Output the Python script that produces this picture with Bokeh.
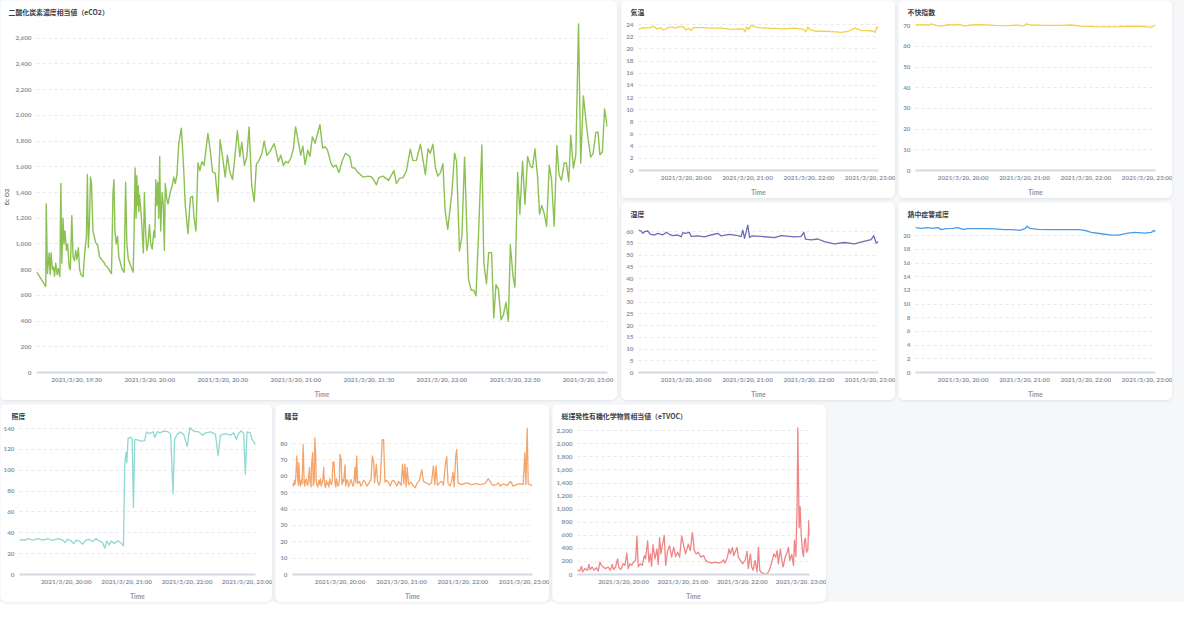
import pandas as pd
from bokeh.plotting import figure
from bokeh.layouts import row, column
from bokeh.models import (Range1d, FixedTicker, DatetimeTickFormatter,
                          NumeralTickFormatter, ColumnDataSource)
from bokeh.embed import file_html
from bokeh.resources import INLINE

# ---------------- data (minutes after 2021/3/20 19:00) ----------------
BASE = "2021-03-20 19:00"

ECO2_T = [
    13.6, 17.3, 17.5, 18.0, 18.7, 19.1, 19.5, 20.0, 20.5, 20.9,
    21.4, 22.0, 22.5, 23.1, 23.5, 23.9, 24.4, 24.8, 25.2, 25.8,
    26.3, 26.9, 27.4, 28.0, 28.5, 29.1, 29.6, 30.1, 30.7, 31.2,
    31.8, 32.6, 33.4, 34.0, 34.4, 34.8, 35.3, 35.7, 36.1, 36.7,
    37.2, 37.8, 38.6, 39.4, 40.2, 41.1, 41.9, 42.7, 43.5, 44.3,
    44.9, 45.3, 45.7, 46.2, 46.8, 47.3, 48.0, 48.7, 49.5, 50.1,
    50.6, 51.2, 52.0, 52.8, 53.2, 53.6, 54.0, 54.4, 54.7, 55.0,
    55.3, 55.5, 55.8, 56.2, 56.6, 57.0, 57.4, 57.8, 58.3, 58.8,
    59.3, 59.9, 60.4, 61.0, 61.7, 62.1, 62.5, 62.9, 63.3, 63.7,
    64.1, 64.5, 65.1, 65.6, 66.0, 66.4, 67.0, 67.5, 68.4, 69.2,
    69.9, 70.5, 71.2, 71.9, 73.0, 73.9, 74.6, 75.7, 76.7, 77.6,
    78.2, 79.0, 79.8, 80.6, 81.4, 82.3, 83.9, 84.9, 85.8, 86.9,
    88.0, 88.9, 89.9, 91.0, 91.9, 92.9, 94.0, 95.1, 96.0, 97.0,
    97.8, 98.9, 99.9, 100.8, 101.9, 102.9, 103.8, 104.9, 106.0, 107.0,
    108.1, 109.4, 111.1, 111.9, 112.8, 113.8, 114.9, 115.8, 116.9, 118.0,
    119.0, 119.9, 121.0, 122.0, 122.9, 123.8, 124.9, 125.8, 126.8, 127.9,
    129.9, 131.0, 132.0, 133.0, 134.4, 135.4, 136.5, 137.7, 139.0, 140.4,
    142.2, 143.1, 144.2, 145.6, 147.6, 149.7, 151.1, 152.1, 153.1, 154.1,
    155.8, 158.1, 160.3, 161.3, 162.6, 164.0, 165.4, 167.0, 168.1, 169.5,
    171.2, 173.2, 174.3, 175.2, 176.3, 177.4, 178.3, 179.4, 180.4, 181.3,
    182.4, 184.1, 185.2, 186.0, 187.2, 188.2, 189.3, 190.9, 192.0, 193.1,
    194.0, 195.0, 196.4, 197.2, 198.3, 199.2, 200.4, 201.3, 202.2, 203.2,
    204.3, 205.2, 206.3, 207.3, 208.1, 209.2, 210.0, 211.1, 212.0, 213.1,
    214.1, 215.2, 216.3, 217.2, 218.2, 219.3, 220.1, 221.0, 222.0, 223.0,
    224.1, 225.0, 226.1, 227.2, 228.1, 229.1, 230.2, 231.1, 232.1, 232.9,
    234.0, 235.0, 236.1, 237.0, 238.1, 239.2, 240.0, 241.1, 242.1, 243.2,
    244.1, 244.9, 245.9, 246.8, 247.9,
]
ECO2_V = [
    780, 670, 1310, 770, 930, 760, 930, 800, 820, 750,
    850, 760, 810, 745, 1470, 850, 1200, 1000, 1100, 950,
    1000, 820, 800, 1220, 900, 870, 950, 880, 970, 800,
    760, 745, 950, 1060, 1540, 970, 1200, 1520, 1460, 1100,
    1060, 1010, 990, 900, 880, 860, 830, 820, 790, 770,
    1390, 1500, 1100, 1000, 1060, 900, 850, 800, 780, 1480,
    1000, 880, 840, 800, 780, 1100, 1590, 1200, 1530, 1300,
    1450, 1250, 1380, 1300, 1200, 1050, 930, 1400, 1100, 950,
    1000, 1150, 1000, 960, 1100, 1050, 1500, 1300, 1480, 1200,
    1680, 1100, 1400, 1300, 950, 1470, 1350, 1310, 1400, 1450,
    1520, 1470, 1540, 1780, 1900, 1600, 1300, 1080, 1360, 1370,
    1200, 1100, 1630, 1570, 1640, 1610, 1860, 1720, 1560, 1550,
    1330, 1810, 1680, 1520, 1690, 1560, 1500, 1700, 1880, 1680,
    1790, 1610, 1680, 1910, 1450, 1330, 1620, 1650, 1700, 1800,
    1690, 1720, 1780, 1720, 1640, 1690, 1610, 1640, 1630, 1670,
    1740, 1910, 1800, 1690, 1760, 1617, 1730, 1680, 1833, 1783,
    1928, 1745, 1757, 1730, 1630, 1598, 1613, 1555, 1643, 1705,
    1680, 1592, 1590, 1555, 1520, 1527, 1522, 1494, 1460, 1516,
    1527, 1494, 1570, 1470, 1510, 1516, 1565, 1737, 1648, 1650,
    1775, 1540, 1740, 1705, 1775, 1585, 1527, 1555, 1623, 1263,
    1113, 1402, 1705, 1643, 945, 1060, 1675, 730, 640, 640,
    597, 1060, 1770, 855, 690, 932, 932, 425, 683, 648,
    410, 445, 546, 398, 994, 747, 665, 1555, 1232, 1643,
    1308, 1680, 1605, 1592, 1740, 1516, 1232, 1300, 1237, 1137,
    1613, 1504, 1137, 1765, 1540, 1494, 1630, 1630, 1484, 1846,
    1590, 1693, 2710, 1630, 2150, 1953, 1820, 1675, 1705, 1868,
    1870, 1693, 1715, 2050, 1910,
]

TEMP_T = [13.5, 18.4, 23.3, 28.2, 31.4, 34.7, 37.9, 42.8, 46.1, 49.3,
          54.2, 57.5, 59.8, 62.4, 65.0, 67.2, 75.4, 85.2, 94.9, 103.1,
          111.2, 116.1, 117.7, 119.4, 121.0, 123.6, 125.9, 130.8, 140.5, 153.5,
          166.6, 174.7, 177.0, 178.9, 181.2, 186.1, 195.9, 205.7, 212.2, 218.7,
          225.2, 231.7, 238.2, 243.1, 244.7, 246.4, 248.0]
TEMP_V = [23.25, 23.5, 23.4, 23.7, 23.25, 23.5, 23.1, 23.5, 23.6, 23.4,
          23.7, 23.6, 23.1, 23.4, 23.0, 23.5, 23.5, 23.4, 23.4, 23.2,
          23.3, 23.25, 22.8, 23.6, 23.2, 23.9, 23.7, 23.5, 23.4, 23.3,
          23.4, 23.2, 22.8, 23.6, 23.15, 22.9, 22.9, 22.8, 22.7, 22.9,
          23.4, 23.0, 23.0, 22.9, 22.7, 23.6, 23.4]

DI_T = [13.5, 19.0, 25.6, 28.8, 33.7, 38.6, 45.1, 51.6, 56.5, 61.4,
        66.3, 77.7, 90.8, 103.8, 113.6, 118.5, 121.7, 126.6, 139.7, 156.0,
        165.7, 175.5, 188.6, 201.6, 211.4, 221.2, 234.2, 244.0, 247.9]
DI_V = [70.3, 70.5, 70.3, 70.8, 70.1, 69.8, 70.5, 70.3, 70.6, 69.8,
        70.3, 70.5, 70.1, 70.0, 70.3, 69.8, 70.8, 70.3, 70.1, 70.1,
        70.3, 69.8, 69.5, 69.4, 69.5, 69.8, 69.7, 69.2, 70.3]

HUM_T = [13.5, 16.1, 17.7, 19.4, 22.6, 25.2, 29.1, 32.4, 37.3, 40.5,
         43.8, 47.0, 51.9, 55.2, 56.8, 59.1, 63.3, 65.0, 71.5, 78.0,
         84.5, 91.0, 94.3, 102.4, 110.6, 113.8, 115.4, 117.1, 118.7, 120.3,
         122.0, 124.2, 133.4, 146.4, 152.9, 165.9, 172.4, 175.0, 176.7, 182.2,
         188.7, 195.2, 205.0, 214.8, 224.6, 232.7, 240.8, 243.4, 245.8, 248.0]
HUM_V = [60.7, 60.3, 59.3, 60.0, 60.3, 58.9, 58.6, 59.3, 58.7, 59.7,
         58.9, 58.3, 58.6, 57.8, 59.6, 59.3, 59.7, 58.0, 58.2, 57.8,
         58.6, 59.3, 58.2, 58.9, 58.3, 57.9, 60.7, 57.2, 60.0, 62.8,
         57.5, 58.2, 58.0, 57.5, 58.3, 57.8, 58.0, 59.7, 56.8, 56.5,
         56.9, 55.8, 54.8, 55.4, 54.8, 55.8, 56.6, 58.3, 55.1, 55.8]

WBGT_T = [13.5, 19.0, 25.6, 30.5, 35.3, 38.6, 43.5, 50.0, 54.9, 59.8,
          64.7, 77.7, 90.8, 100.5, 107.1, 115.2, 120.1, 122.4, 125.0, 133.1,
          146.2, 159.2, 172.3, 178.8, 185.3, 195.1, 204.9, 211.4, 221.2, 227.7,
          237.5, 244.0, 246.6, 247.9]
WBGT_V = [21.2, 21.1, 21.2, 21.1, 21.2, 20.9, 21.05, 21.1, 21.2, 20.95,
          21.05, 21.05, 21.0, 20.9, 20.9, 20.8, 21.0, 21.4, 21.1, 20.95,
          20.9, 20.9, 20.9, 20.8, 20.5, 20.3, 20.1, 20.1, 20.4, 20.5,
          20.4, 20.5, 20.8, 20.6]

LIGHT_T = [13.5, 15.8, 18.5, 21.8, 26.7, 31.7, 36.6, 41.6, 46.5, 51.5,
           56.4, 58.7, 61.4, 64.7, 67.3, 69.6, 72.9, 76.2, 79.5, 82.8,
           86.1, 89.4, 92.7, 96.0, 98.3, 100.3, 102.6, 104.9, 107.6, 110.9,
           114.2, 116.8, 118.1, 119.4, 120.1, 121.4, 123.4, 125.4, 126.7, 128.0,
           130.7, 134.0, 137.9, 139.6, 142.2, 146.5, 147.8, 150.5, 153.1, 157.1,
           161.3, 163.7, 166.0, 167.6, 170.3, 173.6, 176.9, 180.2, 182.8, 186.8,
           191.7, 195.0, 198.3, 203.3, 208.2, 210.8, 213.2, 218.1, 223.1, 226.4,
           229.0, 231.3, 233.6, 236.3, 237.9, 239.6, 242.9, 244.5, 246.2, 247.8]
LIGHT_V = [32.2, 33.8, 32.8, 34.4, 33.1, 34.4, 33.1, 34.1, 32.8, 34.4,
           33.1, 30.6, 33.8, 32.2, 29.7, 32.8, 32.2, 29.1, 33.1, 33.8,
           31.6, 34.4, 32.2, 30.6, 25.3, 32.2, 28.4, 32.2, 29.7, 32.2,
           30.6, 27.5, 107.2, 117.2, 107.2, 130.6, 131.6, 130.6, 64.1, 129.7,
           129.1, 128.1, 128.4, 136.9, 135.3, 136.9, 131.6, 137.2, 135.9, 137.8,
           136.9, 134.7, 77.5, 129.7, 134.7, 136.9, 133.8, 122.8, 140.9, 137.5,
           136.9, 133.8, 135.9, 136.9, 134.7, 114.1, 133.8, 135.3, 133.8, 135.9,
           129.7, 135.3, 137.8, 135.3, 96.2, 136.9, 135.9, 129.7, 127.5, 124.4]

NOISE_T = [13.5, 14.4, 15.4, 16.0, 16.7, 17.7, 18.7, 19.2, 19.7, 20.6,
           21.2, 21.9, 22.4, 22.9, 23.9, 24.9, 25.5, 26.2, 27.0, 27.8,
           28.5, 29.1, 30.1, 30.6, 31.0, 31.6, 32.3, 33.3, 33.8, 34.3,
           34.8, 35.3, 36.2, 36.7, 37.2, 38.2, 39.2, 40.0, 40.8, 41.6,
           42.4, 43.2, 44.0, 44.5, 45.0, 45.8, 46.6, 47.4, 48.3, 49.1,
           49.9, 50.7, 51.5, 52.3, 53.1, 54.1, 55.1, 55.8, 56.4, 57.0,
           57.8, 58.6, 59.3, 59.9, 60.9, 61.9, 62.7, 63.5, 64.8, 65.5,
           66.1, 66.8, 67.4, 68.4, 69.4, 70.5, 71.6, 72.4, 73.3, 74.6,
           75.4, 76.2, 77.2, 79.1, 80.2, 81.4, 83.0, 84.6, 86.2, 87.9,
           89.0, 90.2, 91.5, 92.8, 93.7, 95.4, 96.6, 98.0, 99.2, 101.2,
           102.5, 103.8, 105.5, 107.4, 109.0, 110.6, 112.2, 113.9, 115.5, 117.1,
           119.7, 121.0, 122.3, 123.3, 124.6, 125.6, 126.9, 129.1, 131.1, 133.4,
           135.0, 137.6, 139.8, 141.5, 144.1, 147.3, 149.3, 151.2, 152.5, 153.8,
           155.1, 157.1, 159.3, 161.0, 162.9, 164.2, 165.5, 167.5, 169.1, 170.4,
           171.4, 173.0, 174.0, 175.3, 178.8, 183.7, 188.6, 193.4, 196.7, 201.6,
           204.8, 206.5, 209.0, 212.9, 214.6, 216.2, 219.4, 223.3, 226.6, 229.2,
           232.4, 235.7, 238.9, 240.5, 241.5, 242.8, 243.8, 245.4, 248.0]
NOISE_V = [55.5, 54.0, 57.5, 55.0, 58.9, 72.4, 58.5, 54.5, 68.4, 56.0,
           54.0, 56.9, 58.0, 55.5, 79.4, 56.0, 54.0, 57.5, 58.5, 54.9,
           54.5, 58.5, 65.4, 57.0, 55.5, 53.5, 68.4, 74.4, 54.5, 56.0,
           58.0, 83.4, 72.4, 57.0, 54.9, 53.5, 57.5, 55.0, 58.5, 54.0,
           56.0, 58.0, 65.4, 57.0, 54.9, 53.0, 57.5, 55.0, 56.0, 53.5,
           58.5, 56.0, 54.9, 57.5, 68.8, 68.8, 55.5, 53.5, 58.5, 56.9,
           54.0, 54.5, 58.0, 73.4, 70.4, 54.9, 58.0, 56.5, 67.0, 54.0,
           56.0, 58.0, 57.5, 53.5, 55.5, 58.0, 56.0, 54.0, 54.5, 65.4,
           56.0, 72.4, 55.5, 56.9, 54.0, 54.9, 57.5, 56.5, 54.0, 55.5,
           57.0, 57.5, 72.4, 68.4, 56.0, 67.4, 56.9, 54.5, 56.5, 82.4,
           82.4, 56.5, 57.5, 56.0, 54.0, 56.9, 57.5, 56.0, 54.0, 56.9,
           54.5, 67.4, 55.5, 67.4, 53.5, 65.4, 54.9, 56.5, 54.5, 52.9,
           55.5, 57.5, 64.0, 56.9, 56.0, 54.9, 56.0, 66.4, 54.9, 66.4,
           54.5, 56.0, 56.9, 54.5, 67.4, 72.0, 55.5, 54.0, 57.5, 62.4,
           53.5, 72.4, 76.4, 56.0, 54.9, 56.0, 54.9, 55.5, 54.9, 55.5,
           58.5, 56.9, 54.5, 54.9, 56.0, 54.0, 55.3, 54.5, 56.9, 54.0,
           54.9, 55.5, 54.9, 74.4, 54.9, 89.4, 55.5, 54.9, 54.5]

TVOC_T = [13.5, 15.9, 17.5, 18.6, 20.9, 23.6, 25.0, 26.3, 28.3, 30.4,
          32.7, 34.4, 36.1, 37.8, 39.5, 41.8, 44.5, 46.6, 48.6, 49.9,
          52.0, 54.0, 55.3, 57.4, 59.7, 61.4, 63.4, 64.8, 66.5, 68.2,
          70.2, 72.2, 73.6, 74.9, 76.9, 79.0, 81.0, 82.3, 84.4, 85.7,
          87.1, 88.4, 89.8, 91.8, 93.8, 95.1, 96.5, 97.8, 99.2, 101.2,
          102.6, 104.6, 106.6, 108.6, 110.7, 112.7, 114.7, 116.7, 118.8, 120.8,
          122.8, 125.5, 127.5, 129.6, 131.6, 133.6, 135.6, 138.3, 141.0, 143.1,
          145.8, 149.1, 152.5, 155.9, 159.3, 161.0, 162.6, 165.0, 166.7, 168.0,
          170.1, 171.4, 173.4, 174.8, 176.1, 178.2, 180.2, 182.9, 184.9, 186.2,
          188.3, 189.6, 191.0, 193.0, 195.0, 196.4, 197.7, 199.7, 202.4, 205.1,
          207.2, 208.5, 209.9, 211.9, 213.9, 215.3, 216.6, 218.6, 220.0, 221.4,
          223.4, 225.4, 226.7, 228.1, 230.1, 231.8, 232.8, 234.2, 235.5, 236.2,
          237.5, 238.5, 239.6, 240.9, 241.9, 242.9, 243.9, 245.0, 246.3, 247.3,
          248.0]
TVOC_V = [65, 55, 125, 40, 90, 65, 155, 75, 115, 65,
          105, 50, 190, 140, 115, 90, 115, 65, 155, 75,
          115, 240, 105, 75, 165, 140, 325, 90, 165, 140,
          190, 215, 590, 115, 165, 140, 290, 240, 515, 190,
          315, 125, 455, 240, 390, 155, 565, 315, 440, 600,
          140, 365, 440, 265, 415, 275, 340, 265, 590, 440,
          315, 465, 365, 640, 365, 315, 340, 265, 290, 215,
          190, 175, 190, 175, 190, 225, 175, 265, 390, 315,
          415, 290, 365, 415, 265, 215, 165, 215, 355, 90,
          315, 115, 65, 215, 40, 415, 65, 25, 15, 5,
          65, 115, 190, 315, 265, 365, 165, 390, 215, 115,
          265, 340, 415, 215, 305, 140, 525, 275, 1065, 2245,
          715, 1040, 615, 365, 275, 515, 555, 340, 375, 825,
          590]

BIG_XTICKS = ["19:30", "20:00", "20:30", "21:00", "21:30", "22:00", "22:30", "23:00"]
SMALL_XTICKS = ["20:00", "21:00", "22:00", "23:00"]
ECO2_YTICKS = list(range(0, 2601, 200))
TEMP_YTICKS = list(range(0, 25, 2))
DI_YTICKS = list(range(0, 71, 10))
HUM_YTICKS = list(range(0, 61, 5))
WBGT_YTICKS = list(range(0, 21, 2))
LIGHT_YTICKS = list(range(0, 141, 20))
NOISE_YTICKS = list(range(0, 81, 10))
TVOC_YTICKS = list(range(0, 2201, 200))

# ---------------- helpers ----------------
base = pd.Timestamp(BASE)


def to_dt(mins):
    return [base + pd.Timedelta(minutes=m) for m in mins]


def tick_ms(labels):
    return [pd.Timestamp("2021-03-20 " + s).value / 1e6 for s in labels]


all_t = [ECO2_T, TEMP_T, DI_T, HUM_T, WBGT_T, LIGHT_T, NOISE_T, TVOC_T]
X0 = base + pd.Timedelta(minutes=min(t[0] for t in all_t))
X1 = base + pd.Timedelta(minutes=max(t[-1] for t in all_t))

TICK_COL = "#8e94a3"
TITLE_COL = "#3a3f4b"
FMT = "%Y/%-m/%-d, %H:%M"
CARD = {"border-radius": "6px", "box-shadow": "0 1px 3px rgba(40,50,70,0.10)",
        "overflow": "hidden"}
TICK_SIZE = "6.3px"


def make_fig(title, t, v, color, y_end, yticks, xticks, width, height,
             left, right, title_offset, ylabel=None, comma=False, lw=1.3):
    assert len(t) == len(v)
    src = ColumnDataSource(dict(t=to_dt(t), v=v))
    p = figure(width=width, height=height, x_axis_type="datetime",
               output_backend="svg", toolbar_location=None,
               x_range=Range1d(X0, X1), y_range=Range1d(0, y_end),
               title=title, min_border_left=left, min_border_right=right,
               min_border_top=20, min_border_bottom=28,
               background_fill_color="white", border_fill_color="white",
               outline_line_color=None)
    p.styles = CARD
    p.line("t", "v", source=src, line_color=color, line_width=lw,
           line_join="round")
    p.title.text_font = "Noto Sans CJK JP"
    p.title.text_font_size = "6.9px"
    p.title.text_font_style = "bold"
    p.title.text_color = TITLE_COL
    p.title.align = "left"
    p.title.offset = title_offset
    p.title.standoff = 9

    xa = p.xaxis[0]
    xa.ticker = FixedTicker(ticks=tick_ms(xticks))
    xa.formatter = DatetimeTickFormatter(
        minutes=FMT, hourmin=FMT, hours=FMT, days=FMT, minsec=FMT,
        seconds=FMT, milliseconds=FMT, months=FMT, years=FMT,
        context=None)
    xa.axis_line_color = "#d6d9e4"
    xa.axis_line_width = 2
    xa.major_tick_line_color = None
    xa.minor_tick_line_color = None
    xa.major_tick_in = 0
    xa.major_tick_out = 0
    xa.minor_tick_in = 0
    xa.minor_tick_out = 0
    xa.major_label_standoff = 3
    xa.major_label_text_font = "Lato"
    xa.major_label_text_font_size = TICK_SIZE
    xa.major_label_text_font_style = "bold"
    xa.major_label_text_color = TICK_COL
    xa.axis_label = "Time"
    xa.axis_label_text_font = "Lato"
    xa.axis_label_text_font_size = "6.6px"
    xa.axis_label_text_font_style = "bold"
    xa.axis_label_text_color = TICK_COL
    xa.axis_label_standoff = 4

    ya = p.yaxis[0]
    ya.ticker = FixedTicker(ticks=yticks)
    if comma:
        ya.formatter = NumeralTickFormatter(format="0,0")
    ya.axis_line_color = None
    ya.major_tick_line_color = None
    ya.minor_tick_line_color = None
    ya.major_tick_in = 0
    ya.major_tick_out = 0
    ya.minor_tick_in = 0
    ya.minor_tick_out = 0
    ya.major_label_standoff = 5
    ya.major_label_text_font = "Lato"
    ya.major_label_text_font_size = TICK_SIZE
    ya.major_label_text_font_style = "bold"
    ya.major_label_text_color = TICK_COL
    if ylabel:
        ya.axis_label = ylabel
        ya.axis_label_text_font = "Lato"
        ya.axis_label_text_font_size = "6.4px"
        ya.axis_label_text_font_style = "bold"
        ya.axis_label_text_color = "#6f7584"
        ya.axis_label_standoff = 2

    p.xgrid.grid_line_color = None
    p.ygrid.grid_line_color = "#e8e9ee"
    p.ygrid.grid_line_dash = "3 3"
    return p


big = make_fig("二酸化炭素濃度相当値（eCO2）", ECO2_T, ECO2_V, "#8cc152", 2730,
               ECO2_YTICKS, BIG_XTICKS, 617, 400, 34, 10, -28,
               ylabel="Ec O2", comma=True, lw=1.4)
temp = make_fig("気温", TEMP_T, TEMP_V, "#f6d04a", 24.5, TEMP_YTICKS,
                SMALL_XTICKS, 274, 198, 17, 17, -8)
di = make_fig("不快指数", DI_T, DI_V, "#f6d04a", 72, DI_YTICKS,
              SMALL_XTICKS, 274, 198, 17, 17, -8)
hum = make_fig("湿度", HUM_T, HUM_V, "#6d6cb5", 63.5, HUM_YTICKS,
               SMALL_XTICKS, 274, 198, 17, 17, -8)
wbgt = make_fig("熱中症警戒度", WBGT_T, WBGT_V, "#4b9be3", 21.8, WBGT_YTICKS,
                SMALL_XTICKS, 274, 198, 17, 17, -8)
light = make_fig("照度", LIGHT_T, LIGHT_V, "#8fd9d0", 143, LIGHT_YTICKS,
                 SMALL_XTICKS, 272, 198, 17, 17, -8)
noise = make_fig("騒音", NOISE_T, NOISE_V, "#f4a56a", 91, NOISE_YTICKS,
                 SMALL_XTICKS, 274, 198, 17, 17, -8)
tvoc = make_fig("総揮発性有機化学物質相当値（eTVOC）", TVOC_T, TVOC_V, "#f08585",
                2280, TVOC_YTICKS, SMALL_XTICKS, 274, 198, 25, 17, -16,
                comma=True)

right_block = column(row(temp, di, spacing=3), row(hum, wbgt, spacing=3),
                     spacing=4)
top = row(big, right_block, spacing=4)
bottom = row(light, noise, tvoc, spacing=3)
layout = column(top, bottom, spacing=4, width=1184, height=602,
                styles={"background-color": "#f6f7f9"})

open("out.html", "w").write(file_html(layout, INLINE))
